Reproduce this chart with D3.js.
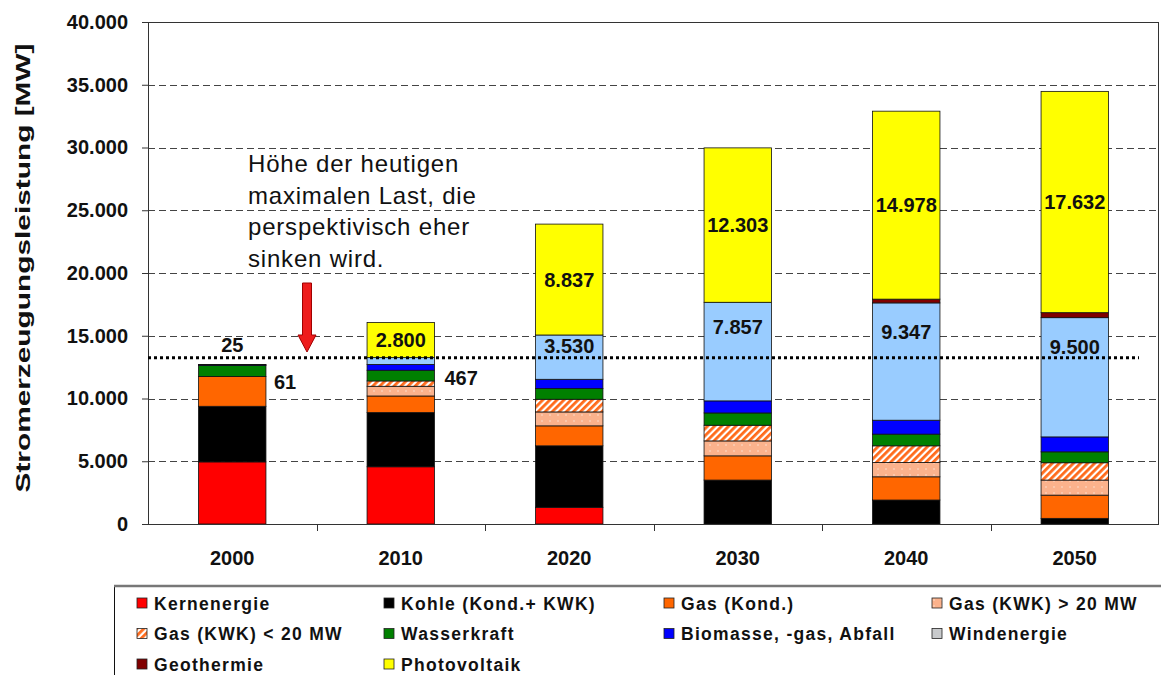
<!DOCTYPE html>
<html>
<head>
<meta charset="utf-8">
<script src="https://cdn.jsdelivr.net/npm/d3@7"></script>
<style>
  html, body { margin: 0; padding: 0; background: #fff; }
  svg { display: block; font-family: "Liberation Sans", Arial, sans-serif; }
</style>
</head>
<body>
<svg id="chart" width="1161" height="675"></svg>
<script>
// Werte in MW, von unten nach oben gestapelt
const years = ['2000', '2010', '2020', '2030', '2040', '2050'];
const kernenergie = [4950, 4560, 1330, 0, 0, 0];
const kohle = [4430, 4320, 4900, 3500, 1910, 450];
const gasKond = [2380, 1320, 1590, 1930, 1850, 1850];
const gasKwkGross = [0, 775, 1110, 1190, 1140, 1200];
const gasKwkKlein = [0, 425, 1010, 1250, 1330, 1380];
const wasserkraft = [870, 850, 850, 980, 930, 870];
const biomasse = [61, 467, 740, 960, 1110, 1190];
const windenergie = [25, 540, 3530, 7857, 9347, 9500];
const geothermie = [0, 0, 0, 0, 300, 400];
const photovoltaik = [0, 2800, 8837, 12303, 14978, 17632];
const maxLast = 13250;
const yTicks = [0, 5000, 10000, 15000, 20000, 25000, 30000, 35000, 40000];
const noteLines = ['Höhe der heutigen', 'maximalen Last, die', 'perspektivisch eher', 'sinken wird.'];

const series = [
  { key: 'kern', name: 'Kernenergie', values: kernenergie, fill: '#ff0000' },
  { key: 'kohle', name: 'Kohle (Kond.+ KWK)', values: kohle, fill: '#000000' },
  { key: 'gask', name: 'Gas (Kond.)', values: gasKond, fill: '#ff6600' },
  { key: 'gasg', name: 'Gas (KWK) > 20 MW', values: gasKwkGross, fill: 'url(#dots)' },
  { key: 'gasl', name: 'Gas (KWK) < 20 MW', values: gasKwkKlein, fill: 'url(#hatch)' },
  { key: 'wasser', name: 'Wasserkraft', values: wasserkraft, fill: '#008000' },
  { key: 'bio', name: 'Biomasse, -gas, Abfall', values: biomasse, fill: '#0000ff' },
  { key: 'wind', name: 'Windenergie', values: windenergie, fill: '#99ccff', legendFill: '#c8cacc' },
  { key: 'geo', name: 'Geothermie', values: geothermie, fill: '#800000' },
  { key: 'pv', name: 'Photovoltaik', values: photovoltaik, fill: '#ffff00' }
];

const fmt = v => d3.format(',')(v).replace(/,/g, '.');

const svg = d3.select('#chart');
const margin = { top: 22, left: 148, right: 2, bottom: 151 };
const W = 1161, H = 675;
const plotW = W - margin.left - margin.right;
const plotH = H - margin.top - margin.bottom;

// patterns
const defs = svg.append('defs');
const hatch = defs.append('pattern').attr('id', 'hatch').attr('patternUnits', 'userSpaceOnUse')
  .attr('width', 5).attr('height', 5).attr('patternTransform', 'rotate(45)');
hatch.append('rect').attr('width', 5).attr('height', 5).attr('fill', '#ffffff');
hatch.append('rect').attr('width', 2.8).attr('height', 5).attr('fill', '#ff6a1a');
const dots = defs.append('pattern').attr('id', 'dots').attr('patternUnits', 'userSpaceOnUse')
  .attr('width', 8).attr('height', 6);
dots.append('rect').attr('width', 8).attr('height', 6).attr('fill', '#fbb28c');
dots.append('circle').attr('cx', 2).attr('cy', 3).attr('r', 0.8).attr('fill', '#fde2d2');

const g = svg.append('g').attr('transform', `translate(${margin.left},${margin.top})`);

const x = d3.scaleBand().domain(years).range([0, plotW]).paddingInner(0.6).paddingOuter(0.3);
const y = d3.scaleLinear().domain([0, 40000]).range([plotH, 0]);

// gridlines
g.append('g').selectAll('line').data(yTicks.filter(t => t > 0 && t < 40000)).join('line')
  .attr('x1', 0).attr('x2', plotW)
  .attr('y1', d => Math.round(y(d)) + 0.5).attr('y2', d => Math.round(y(d)) + 0.5)
  .attr('stroke', '#444').attr('stroke-width', 1).attr('stroke-dasharray', '7,4');

// stacked bars
const rows = years.map((yr, i) => {
  const r = { year: yr };
  series.forEach(s => { r[s.key] = s.values[i]; });
  return r;
});
const stack = d3.stack().keys(series.map(s => s.key))(rows);

const barG = g.append('g');
stack.forEach((layer, li) => {
  barG.append('g').selectAll('rect').data(layer.filter(d => d[1] - d[0] > 0)).join('rect')
    .attr('x', d => x(d.data.year))
    .attr('width', x.bandwidth())
    .attr('y', d => y(d[1]))
    .attr('height', d => y(d[0]) - y(d[1]))
    .attr('fill', series[li].fill)
    .attr('stroke', '#111').attr('stroke-width', 0.8);
});

// frame and axes
g.append('rect').attr('x', 0.5).attr('y', 0.5).attr('width', plotW - 1).attr('height', plotH)
  .attr('fill', 'none').attr('stroke', '#333').attr('stroke-width', 1);

const yAxis = g.append('g').call(d3.axisLeft(y).tickValues(yTicks).tickSize(6).tickPadding(14).tickFormat(fmt));
yAxis.select('.domain').remove();
yAxis.selectAll('line').attr('stroke', '#333');
yAxis.selectAll('text').attr('font-size', 20).attr('font-weight', 'bold').attr('fill', '#111')
  .attr('font-family', '"Liberation Sans", Arial, sans-serif');

const xAxis = g.append('g').attr('transform', `translate(0,${plotH})`);
xAxis.selectAll('line').data(d3.range(1, years.length)).join('line')
  .attr('x1', d => Math.round(d * x.step()) + 0.5).attr('x2', d => Math.round(d * x.step()) + 0.5)
  .attr('y1', 0).attr('y2', 7).attr('stroke', '#333');
xAxis.selectAll('text').data(years).join('text')
  .attr('x', d => x(d) + x.bandwidth() / 2).attr('y', 41)
  .attr('text-anchor', 'middle').attr('font-size', 20).attr('font-weight', 'bold').attr('fill', '#111')
  .text(d => d);

// y axis title
svg.append('text')
  .attr('transform', 'translate(30,268) rotate(-90)')
  .attr('text-anchor', 'middle').attr('font-size', 21).attr('font-weight', 'bold').attr('fill', '#111')
  .attr('textLength', 449).attr('lengthAdjust', 'spacingAndGlyphs')
  .text('Stromerzeugungsleistung [MW]');

// max load line
g.append('line').attr('x1', 0).attr('x2', plotW - 20)
  .attr('y1', y(maxLast)).attr('y2', y(maxLast))
  .attr('stroke', '#000').attr('stroke-width', 3).attr('stroke-dasharray', '3,3');

// value labels
const windLayer = stack[series.findIndex(s => s.key === 'wind')];
const pvLayer = stack[series.findIndex(s => s.key === 'pv')];
const bioLayer = stack[series.findIndex(s => s.key === 'bio')];

function label(xp, yp, txt, anchor) {
  g.append('text').attr('x', xp).attr('y', yp).attr('text-anchor', anchor || 'middle')
    .attr('font-size', 20).attr('font-weight', 'bold').attr('fill', '#111')
    .text(txt);
}

pvLayer.forEach(d => {
  if (d[1] - d[0] <= 0) return;
  label(x(d.data.year) + x.bandwidth() / 2, (y(d[0]) + y(d[1])) / 2 + 7, fmt(d.data.pv));
});
windLayer.forEach((d, i) => {
  if (i < 2) return;
  const top = y(d[1]), h = y(d[0]) - y(d[1]);
  label(x(d.data.year) + x.bandwidth() / 2, top + h * 0.25 + 7, fmt(d.data.wind));
});
// small values for 2000 / 2010
const w0 = windLayer[0];
label(x(years[0]) + x.bandwidth() / 2, y(w0[1]) - 12, fmt(w0.data.wind));
const b0 = bioLayer[0];
label(x(years[0]) + x.bandwidth() + 8, y(b0[1]) + 24, fmt(b0.data.bio), 'start');
const b1 = bioLayer[1];
label(x(years[1]) + x.bandwidth() + 10, y(b1[1]) + 21, fmt(b1.data.bio), 'start');

// annotation text
const note = svg.append('text').attr('font-size', 24).attr('fill', '#111').attr('letter-spacing', 0.8);
noteLines.forEach((t, i) => {
  note.append('tspan').attr('x', 248).attr('y', 172 + i * 31.6).text(t);
});

// red arrow
const ax = 307;
svg.append('path')
  .attr('d', `M${ax - 4.5},283 L${ax + 4.5},283 L${ax + 4.5},335 L${ax + 9},335 L${ax},352 L${ax - 9},335 L${ax - 4.5},335 Z`)
  .attr('fill', '#ee1c1c').attr('stroke', '#a00000').attr('stroke-width', 1);

// legend
const legend = svg.append('g').attr('transform', 'translate(114,585)');
legend.append('rect').attr('x', 0.5).attr('y', 0.5).attr('width', 1100).attr('height', 120)
  .attr('fill', '#fff').attr('stroke', '#111').attr('stroke-width', 1);
legend.append('line').attr('x1', 0).attr('x2', 1100).attr('y1', 1).attr('y2', 1)
  .attr('stroke', '#777').attr('stroke-width', 2.5);
const colX = [23, 270, 550, 818];
const item = legend.selectAll('g.item').data(series).join('g').attr('class', 'item')
  .attr('transform', (d, i) => `translate(${colX[i % 4]},${18 + Math.floor(i / 4) * 30.5})`);
item.append('rect').attr('x', 0).attr('y', -5).attr('width', 10).attr('height', 10)
  .attr('fill', d => d.legendFill || d.fill).attr('stroke', '#222').attr('stroke-width', 0.8);
item.append('text').attr('x', 17).attr('y', 6.5).attr('font-size', 17.5).attr('font-weight', 'bold')
  .attr('letter-spacing', 1.3).attr('fill', '#111').text(d => d.name);
</script>
</body>
</html>
